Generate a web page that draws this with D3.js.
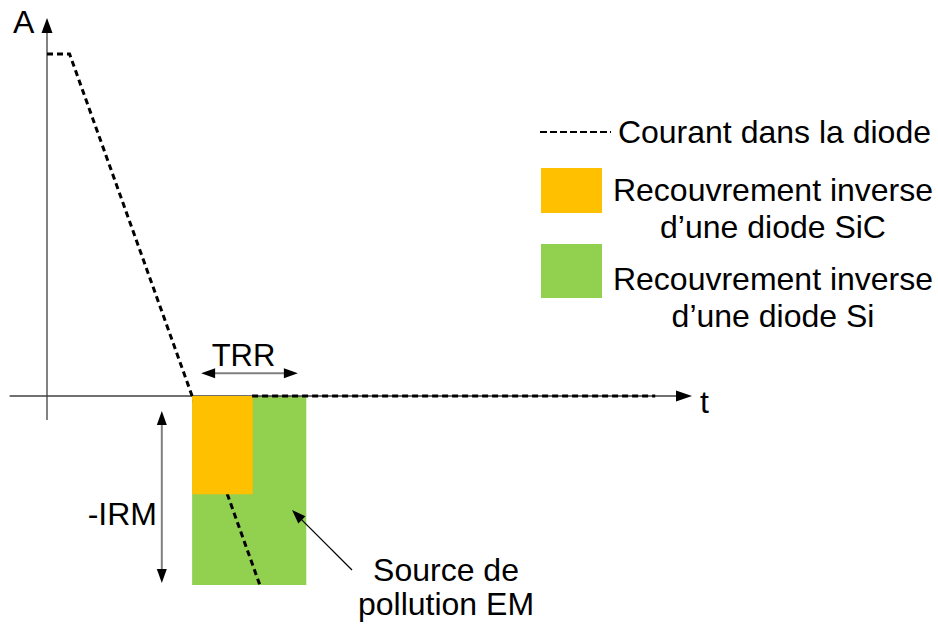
<!DOCTYPE html>
<html><head><meta charset="utf-8">
<script src="https://cdn.jsdelivr.net/npm/d3@7"></script>
<style>body{margin:0;background:#fff}svg{display:block}text{font-family:"Liberation Sans",Arial,sans-serif;fill:#000}</style>
</head><body><svg id="c" width="938" height="628"></svg>
<script>
// Data (abstract units: time t, current A)
const currentT = [0, 3.5, 22.5, 33];          // diode current waveform (time)
const currentA = [1.81, 1.81, 0, -1];          // diode current waveform (amplitude)
const tailT = [31.8, 94.3];                    // current after recovery
const tailA = [0, 0];
const sicRect = {t0: 22.5, t1: 31.9, a0: 0, a1: -0.52};
const siRect  = {t0: 22.5, t1: 40.2, a0: 0, a1: -1};
const trr = [23.9, 38.9];   const trrLevel = 0.12;
const irm = [-0.08, -0.99]; const irmT = 17.8;
const legendLabels = ["Courant dans la diode", ["Recouvrement inverse", "d\u2019une diode SiC"], ["Recouvrement inverse", "d\u2019une diode Si"]];
const noteLines = ["Source de", "pollution EM"];
const colors = {sic: "#FFC000", si: "#92D050"};

const svg = d3.select("#c");
const x = d3.scaleLinear().domain([0, 100]).range([47, 692]);
const y = d3.scaleLinear().domain([-1, 0]).range([585, 396]);

function tri(cx, cy, dir, len, half) {
  const ux = Math.cos(dir), uy = Math.sin(dir);
  const px = -uy, py = ux;
  const bx = cx - ux*len, by = cy - uy*len;
  return `M${cx},${cy}L${bx+px*half},${by+py*half}L${bx-px*half},${by-py*half}Z`;
}

svg.append("rect").attr("x", x(siRect.t0)).attr("y", y(siRect.a0))
  .attr("width", x(siRect.t1)-x(siRect.t0)).attr("height", y(siRect.a1)-y(siRect.a0)).attr("fill", colors.si);

// Axes
svg.append("line").attr("x1", x(-5.8)).attr("x2", x(97.6)).attr("y1", y(0)).attr("y2", y(0)).attr("stroke", "#404040").attr("stroke-width", 1.3);
svg.append("path").attr("d", tri(x(100), y(0), 0, 16, 5.5)).attr("fill", "#000");
svg.append("line").attr("x1", x(0)).attr("x2", x(0)).attr("y1", y(-0.127)).attr("y2", y(1.94)).attr("stroke", "#404040").attr("stroke-width", 1.3);
svg.append("path").attr("d", tri(x(0), y(2.0), -Math.PI/2, 15, 5.5)).attr("fill", "#000");
svg.append("text").attr("x", 13).attr("y", 33).attr("font-size", 32).text("A");
svg.append("text").attr("x", x(100)+8).attr("y", y(0)+17).attr("font-size", 32).text("t");

const line = d3.line().x(d=>x(d[0])).y(d=>y(d[1]));
svg.append("path").attr("d", line(currentT.map((t,i)=>[t,currentA[i]])))
  .attr("fill","none").attr("stroke","#000").attr("stroke-width",3).attr("stroke-dasharray","6,4");

svg.append("rect").attr("x", x(sicRect.t0)).attr("y", y(sicRect.a0))
  .attr("width", x(sicRect.t1)-x(sicRect.t0)).attr("height", y(sicRect.a1)-y(sicRect.a0)).attr("fill", colors.sic);

svg.append("path").attr("d", line(tailT.map((t,i)=>[t,tailA[i]])))
  .attr("fill","none").attr("stroke","#000").attr("stroke-width",3).attr("stroke-dasharray","6,4");

// TRR arrow
const ty = y(trrLevel);
svg.append("line").attr("x1", x(trr[0])+10).attr("x2", x(trr[1])-10).attr("y1", ty).attr("y2", ty).attr("stroke","#7f7f7f").attr("stroke-width",2);
svg.append("path").attr("d", tri(x(trr[0]), ty, Math.PI, 14, 5)).attr("fill","#000");
svg.append("path").attr("d", tri(x(trr[1]), ty, 0, 14, 5)).attr("fill","#000");
svg.append("text").attr("x", (x(trr[0])+x(trr[1]))/2 - 6).attr("y", 366).attr("text-anchor","middle").attr("font-size",31).text("TRR");

// IRM arrow
const ix = x(irmT);
svg.append("line").attr("x1", ix).attr("x2", ix).attr("y1", y(irm[0])+10).attr("y2", y(irm[1])-10).attr("stroke","#7f7f7f").attr("stroke-width",2);
svg.append("path").attr("d", tri(ix, y(irm[0]), -Math.PI/2, 14, 5)).attr("fill","#000");
svg.append("path").attr("d", tri(ix, y(irm[1]), Math.PI/2, 14, 5)).attr("fill","#000");
svg.append("text").attr("x", 157).attr("y", 525).attr("text-anchor","end").attr("font-size",32).text("-IRM");

// Source arrow
const sx0 = 352, sy0 = 570, sx1 = 292, sy1 = 510;
const ang = Math.atan2(sy1-sy0, sx1-sx0);
svg.append("line").attr("x1", sx0).attr("y1", sy0).attr("x2", sx1-Math.cos(ang)*10).attr("y2", sy1-Math.sin(ang)*10).attr("stroke","#000").attr("stroke-width",1.2);
svg.append("path").attr("d", tri(sx1, sy1, ang, 14, 5)).attr("fill","#000");
svg.append("text").attr("x", 446).attr("y", 581).attr("text-anchor","middle").attr("font-size",32)
  .selectAll("tspan").data(noteLines).join("tspan")
  .attr("x", 446).attr("dy", (d,i)=> i ? 34 : 0).text(d=>d);

// Legend
const lg = svg.append("g");
lg.append("line").attr("x1",540).attr("x2",611).attr("y1",132).attr("y2",132).attr("stroke","#000").attr("stroke-width",2).attr("stroke-dasharray","7,3");
lg.append("text").attr("x",931).attr("y",143).attr("text-anchor","end").attr("font-size",32).text(legendLabels[0]);
lg.append("rect").attr("x",541).attr("y",168).attr("width",61).attr("height",45).attr("fill",colors.sic);
lg.append("rect").attr("x",541).attr("y",244).attr("width",61).attr("height",54).attr("fill",colors.si);
[[legendLabels[1], 201], [legendLabels[2], 290]].forEach(([lines, base]) => {
  lines.forEach((s, i) => lg.append("text").attr("x", 773).attr("y", base + i*37).attr("text-anchor","middle").attr("font-size",32).text(s));
});
</script></body></html>
